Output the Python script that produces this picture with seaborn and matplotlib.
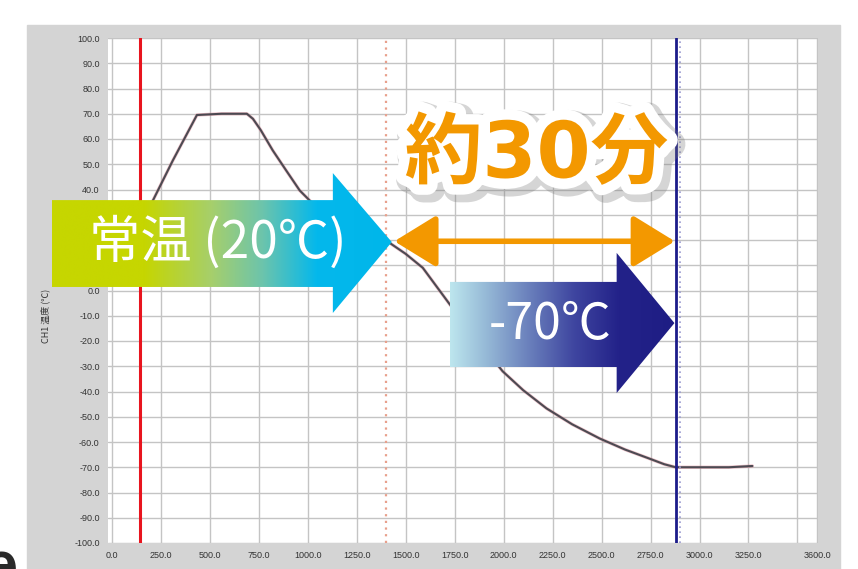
import numpy as np
import matplotlib
matplotlib.use("Agg")
import matplotlib.pyplot as plt
import matplotlib.patheffects as pe
from matplotlib.colors import LinearSegmentedColormap
from matplotlib.patches import Polygon, Rectangle
import seaborn as sns

# 温度ログ (秒, ℃) - 画像から読み取り
time_s = [145, 209, 311, 434, 560, 689, 720, 760, 821, 890, 959, 1050, 1150,
          1250, 1350, 1400, 1500, 1587, 1724, 1850, 1995, 2100, 2219, 2350,
          2490, 2620, 2745, 2820, 2878, 3000, 3150, 3270]
temp_c = [22, 35.6, 51.5, 69.5, 70, 70, 68, 63.5, 55.5, 47.5, 39.6, 32.5, 27,
          23.5, 21, 19.8, 14.5, 9, -5.4, -18, -32, -39.5, -46.7, -53,
          -58.6, -63, -66.6, -68.8, -70, -70, -70, -69.5]

t_start = 145      # 赤線
t_room = 1400      # 常温到達 (点線)
t_cold = 2880      # -70℃到達 (青線)

x_ticks = [0, 250, 500, 750, 1000, 1250, 1500, 1750, 2000, 2250, 2500, 2750,
           3000, 3250, 3500, 3600]
x_labels = ["0.0", "250.0", "500.0", "750.0", "1000.0", "1250.0", "1500.0",
            "1750.0", "2000.0", "2250.0", "2500.0", "2750.0", "3000.0",
            "3250.0", "", "3600.0"]
y_ticks = list(range(-100, 101, 10))
hidden_y = [10, 20, 30]   # 矢印に隠れているラベル

sns.set_style("white")
plt.rcParams['font.family'] = ['Liberation Sans', 'Noto Sans CJK JP', 'DejaVu Sans']
cjk = ['Noto Sans CJK JP', 'DejaVu Sans']

fig = plt.figure(figsize=(8.58, 5.69), dpi=100)
fig.patch.set_facecolor("white")
# 灰色の枠
fig.add_artist(Rectangle((27 / 858, 0), (840 - 27) / 858, (569 - 25) / 569,
                         transform=fig.transFigure, color="#d4d4d4", zorder=0))

ax = fig.add_axes([108 / 858, 26 / 569, (818 - 108) / 858, (543 - 38) / 569])
ax.set_facecolor("white")

sns.lineplot(x=time_s, y=temp_c, ax=ax, color="#d87a88", lw=2.4, alpha=0.45, zorder=3)
sns.lineplot(x=time_s, y=temp_c, ax=ax, color="#4c4a52", lw=1.5, zorder=3)

ax.axvline(t_start, color="#e8141e", lw=2.2, zorder=3)
ax.axvline(t_room, color="#e8a08c", lw=1.6, ls=(0, (1, 2)), zorder=3)
ax.axvline(t_cold, color="#1c1c8a", lw=2.0, zorder=3)
ax.axvline(t_cold + 18, color="#9a9ad0", lw=1.2, ls=(0, (1, 2)), zorder=3)

ax.set_xlim(-20, 3605)
ax.set_ylim(-100, 100)
ax.set_xticks(x_ticks)
ax.set_xticklabels(x_labels)
ax.set_yticks(y_ticks)
ax.set_yticklabels(["" if v in hidden_y else f"{v:.1f}" for v in y_ticks])
ax.tick_params(axis="both", direction="out", length=4, width=0.8, color="#444444",
               labelsize=6.5, labelcolor="#333333", pad=2)
ax.grid(True, color="#c4c4c4", lw=1)
for s in ax.spines.values():
    s.set_visible(False)
ax.set_xlabel("")
ax.set_ylabel("CH1 温度 (℃)", fontsize=6.5, color="#333333", family=cjk)
ax.yaxis.set_label_coords(-0.082, 0.45)


def gradient_arrow(verts, x0, x1, y0, y1, stops):
    cmap = LinearSegmentedColormap.from_list("g", stops)
    poly = Polygon(verts, closed=True, fc="none", ec="none", clip_on=False,
                   transform=ax.transData)
    ax.add_patch(poly)
    grad = np.linspace(0, 1, 512).reshape(1, -1)
    im = ax.imshow(grad, extent=[x0, x1, y0, y1], aspect="auto", cmap=cmap,
                   origin="lower", zorder=5, interpolation="bilinear")
    im.set_clip_path(poly)
    im.set_clip_box(fig.bbox)


# 常温の矢印
gradient_arrow([(-306, 35.8), (1128, 35.8), (1128, 46.5), (1429, 19.2),
                (1128, -8.9), (1128, 1.4), (-306, 1.4)],
               -306, 1429, -9, 47,
               [(0, "#c6d600"), (0.27, "#c6d600"), (0.47, "#a6cf6c"),
                (0.62, "#6cc4ac"), (0.78, "#04b8ec"), (1, "#00b6ea")])
# -70℃の矢印
gradient_arrow([(1724, 3.4), (2577, 3.4), (2577, 14.9), (2872, -12.9),
                (2577, -40.6), (2577, -30.3), (1724, -30.3)],
               1724, 2872, -41, 15,
               [(0, "#bde6ee"), (0.15, "#98bcd8"), (0.35, "#6a80bc"),
                (0.55, "#3f46a0"), (0.75, "#232289"), (1, "#1e1d84")])

ax.set_xlim(-20, 3605)
ax.set_ylim(-100, 100)

ax.text(540, 18.8, "常温 (20℃)", color="white", fontsize=37, family=cjk,
        ha="center", va="center", zorder=6)
ax.text(2240, -13.5, "-70℃", color="white", fontsize=36, family=cjk,
        ha="center", va="center", zorder=6)

# 約30分の両矢印
ax.annotate("", xy=(2874, 19.5), xytext=(1442, 19.5),
            arrowprops=dict(arrowstyle="<|-|>,head_length=1.3,head_width=0.8",
                            color="#f39800", lw=4, mutation_scale=20,
                            shrinkA=0, shrinkB=0),
            zorder=6)
ax.text(2168, 53.5, "約30分", color="#f39800", fontsize=56, fontweight="bold",
        family=['DejaVu Sans', 'Noto Sans CJK JP'], ha="center", va="center", zorder=7,
        path_effects=[pe.Stroke(offset=(3, -3), linewidth=20, foreground="#777777", alpha=0.3),
                      pe.Stroke(linewidth=15, foreground="white"),
                      pe.Normal()])

# 左下の切れた文字
fig.text(18 / 858, 0.0, "e", fontsize=44, color="#2a2a2a", ha="right",
         va="center", fontweight="bold")

fig.savefig("out.png", dpi=100)
